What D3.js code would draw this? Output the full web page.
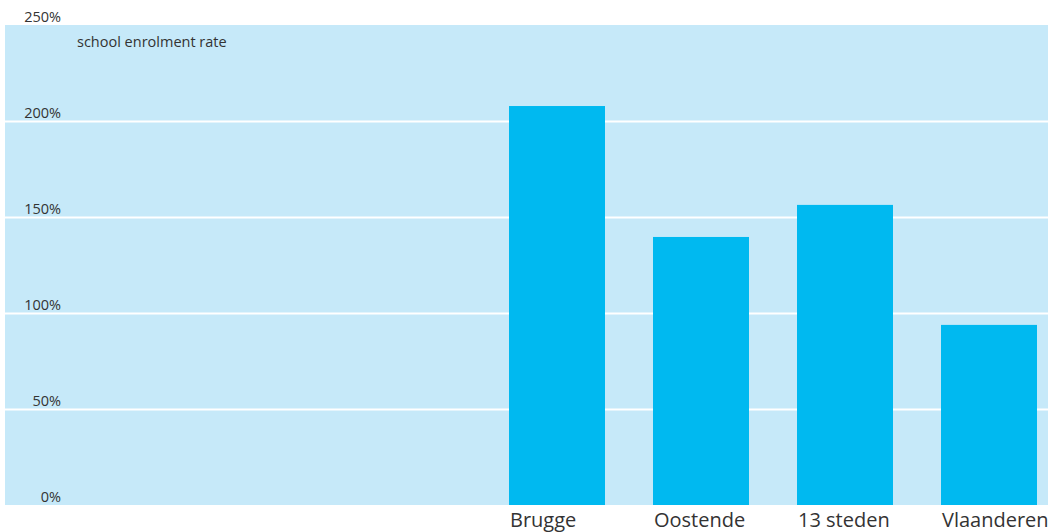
<!DOCTYPE html>
<html>
<head>
<meta charset="utf-8">
<script src="https://cdn.jsdelivr.net/npm/d3@7"></script>
<style>
  html, body { margin: 0; padding: 0; background: #ffffff; }
  svg { display: block; }
  text { font-family: "Open Sans", "Noto Sans", sans-serif; fill: #333333; }
</style>
</head>
<body>
<svg id="chart" width="1048" height="532"></svg>
<script>
const categories = ["", " ", "  ", "Brugge", "Oostende", "13 steden", "Vlaanderen"];
const values = [null, null, null, 207.8, 139.6, 156.3, 93.8];
const seriesName = "school enrolment rate";
const yTicks = [0, 50, 100, 150, 200, 250];
const yTickLabels = ["0%", "50%", "100%", "150%", "200%", "250%"];

const svg = d3.select("#chart");
const plot = { left: 5, right: 1048, top: 25, bottom: 505 };

const x = d3.scaleBand()
  .domain(categories)
  .range([77, 1037])
  .paddingInner(1 / 3)
  .paddingOuter(0);

const y = d3.scaleLinear()
  .domain([0, 250])
  .range([plot.bottom, plot.top]);

// background
svg.append("rect")
  .attr("x", plot.left).attr("y", plot.top)
  .attr("width", plot.right - plot.left)
  .attr("height", plot.bottom - plot.top)
  .attr("fill", "#c6e9f9");

// gridlines
svg.append("g")
  .selectAll("line")
  .data(yTicks.filter(t => t > 0 && t < 250))
  .join("line")
  .attr("x1", plot.left).attr("x2", plot.right)
  .attr("y1", d => Math.round(y(d)) + 0.5)
  .attr("y2", d => Math.round(y(d)) + 0.5)
  .attr("stroke", "#ffffff")
  .attr("stroke-width", 2);

// bars
svg.append("g")
  .selectAll("rect")
  .data(categories.map((c, i) => ({ c, v: values[i] })).filter(d => d.v != null))
  .join("rect")
  .attr("x", d => x(d.c))
  .attr("width", x.bandwidth())
  .attr("y", d => y(d.v))
  .attr("height", d => y(0) - y(d.v))
  .attr("fill", "#00b9f0");

// y tick labels
svg.append("g")
  .selectAll("text")
  .data(yTicks)
  .join("text")
  .attr("x", 61)
  .attr("y", d => y(d) - 3)
  .attr("text-anchor", "end")
  .attr("font-size", 14.5)
  .text((d, i) => yTickLabels[i]);

// category labels
svg.append("g")
  .selectAll("text")
  .data(categories.filter(c => c.trim() !== ""))
  .join("text")
  .attr("x", d => x(d) + 1)
  .attr("y", 527)
  .attr("font-size", 20)
  .text(d => d);

// series label
svg.append("text")
  .attr("x", 77)
  .attr("y", 47)
  .attr("font-size", 14.5)
  .text(seriesName);
</script>
</body>
</html>
